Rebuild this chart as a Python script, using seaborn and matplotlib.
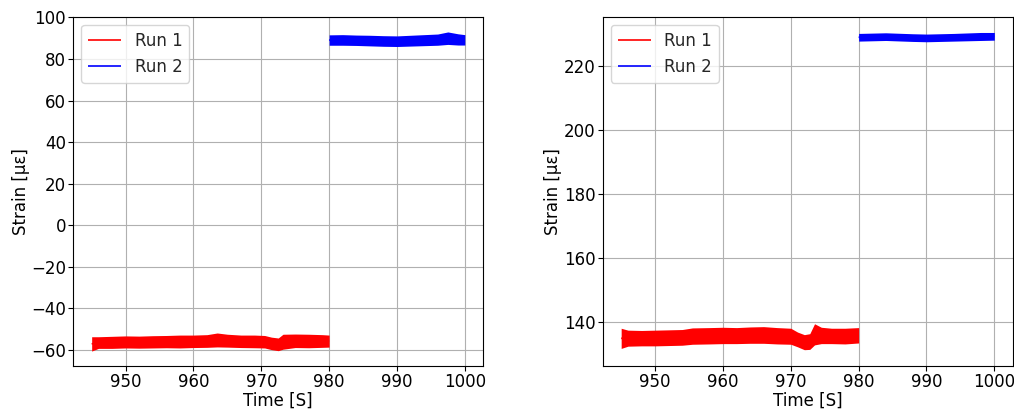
import matplotlib
matplotlib.use("Agg")
import matplotlib.pyplot as plt
import seaborn as sns
import pandas as pd

# Strain envelopes (lower / upper bound of the sampled signal) per run
# --- left gauge ---
g1_run1_time = [945.0, 946, 948, 950, 952, 954, 956, 958, 960, 962, 963.5, 965, 967,
                969, 970.5, 971.5, 972.5, 973.2, 975, 977, 979, 980]
g1_run1_low = [-60.5, -59.2, -59.2, -59.0, -59.1, -59.0, -58.9, -59.0, -58.8, -58.7, -58.5,
               -58.6, -58.8, -58.9, -59.0, -59.8, -60.3, -59.6, -58.8, -58.9, -58.7, -58.6]
g1_run1_high = [-53.6, -53.6, -53.4, -53.2, -53.3, -53.1, -53.0, -52.8, -52.8, -52.6, -51.8,
                -52.4, -52.8, -52.8, -53.0, -53.8, -54.2, -52.4, -52.3, -52.4, -52.6, -52.8]

g1_run2_time = [980, 982, 984, 986, 988, 990, 992, 994, 996, 997.5, 999, 1000]
g1_run2_low = [86.6, 86.6, 86.5, 86.3, 86.1, 86.0, 86.2, 86.4, 86.6, 87.0, 86.7, 86.7]
g1_run2_high = [91.6, 91.7, 91.5, 91.4, 91.2, 91.1, 91.4, 91.7, 92.0, 93.0, 92.1, 91.7]

# --- right gauge ---
g2_run1_time = [945, 946, 948, 950, 952, 954, 955.5, 958, 960, 962, 964, 966, 968, 970,
                971, 972, 972.8, 973.5, 974.5, 976, 978, 980]
g2_run1_low = [131.9, 132.6, 132.7, 132.7, 132.8, 132.9, 133.2, 133.3, 133.4, 133.4, 133.5,
               133.5, 133.3, 133.2, 132.4, 131.5, 131.6, 133.0, 133.4, 133.4, 133.3, 133.6]
g2_run1_high = [138.2, 137.6, 137.5, 137.6, 137.7, 137.8, 138.3, 138.4, 138.5, 138.4, 138.6,
                138.7, 138.4, 138.2, 137.0, 136.2, 136.5, 139.6, 138.5, 138.2, 138.2, 138.4]

g2_run2_time = [980, 984, 988, 990, 994, 998, 1000]
g2_run2_low = [227.8, 228.0, 227.7, 227.6, 227.8, 228.0, 228.1]
g2_run2_high = [230.2, 230.4, 230.1, 230.0, 230.2, 230.5, 230.5]

run_labels = ["Run 1", "Run 2"]
run_colors = {"Run 1": "#ff0000", "Run 2": "#0000ff"}


def long_table(time, low, high, run):
    """Two rows per time stamp (lower and upper bound) for one run."""
    return pd.DataFrame({
        "Time": list(time) + list(time),
        "Strain": list(low) + list(high),
        "Run": [run] * (2 * len(time)),
    })


gauges = [
    pd.concat([long_table(g1_run1_time, g1_run1_low, g1_run1_high, run_labels[0]),
               long_table(g1_run2_time, g1_run2_low, g1_run2_high, run_labels[1])]),
    pd.concat([long_table(g2_run1_time, g2_run1_low, g2_run1_high, run_labels[0]),
               long_table(g2_run2_time, g2_run2_low, g2_run2_high, run_labels[1])]),
]

sns.set_style("ticks", {"axes.grid": True, "grid.color": "#b0b0b0",
                        "axes.edgecolor": "black", "xtick.color": "black",
                        "ytick.color": "black", "axes.labelcolor": "black"})
plt.rcParams["font.family"] = ["DejaVu Sans"]
plt.rcParams["font.size"] = 12

fig, axes = plt.subplots(1, 2, figsize=(10.14, 4.09), dpi=100)
fig.subplots_adjust(left=0.072, right=0.999, bottom=0.105, top=0.959, wspace=0.29)

for ax, df in zip(axes, gauges):
    sns.lineplot(data=df, x="Time", y="Strain", hue="Run", hue_order=run_labels,
                 palette=run_colors, estimator="mean", errorbar=("pi", 100),
                 err_kws={"alpha": 1.0, "linewidth": 0}, linewidth=1.2,
                 solid_capstyle="butt", ax=ax)
    ax.set_xlabel("Time [S]", fontsize=12, labelpad=0.5)
    ax.set_ylabel("Strain [με]", fontsize=12, labelpad=1)
    ax.tick_params(labelsize=12, length=3.5, width=0.8, pad=1.5)
    ax.set_xticks([950, 960, 970, 980, 990, 1000])
    ax.grid(True, color="#b0b0b0", linewidth=0.8)
    for sp in ax.spines.values():
        sp.set_visible(True)
        sp.set_color("black")
        sp.set_linewidth(0.8)
    ax.legend(loc="upper left", fontsize=12, title=None, frameon=True,
              framealpha=0.8, edgecolor="#cccccc", fancybox=True)

axes[0].set_xlim(942.25, 1002.75)
axes[0].set_ylim(-67.7, 100.3)
axes[0].set_yticks([-60, -40, -20, 0, 20, 40, 60, 80, 100])
axes[1].set_xlim(942.25, 1002.75)
axes[1].set_ylim(126.4, 235.4)
axes[1].set_yticks([140, 160, 180, 200, 220])

fig.savefig("out.png", dpi=100)
